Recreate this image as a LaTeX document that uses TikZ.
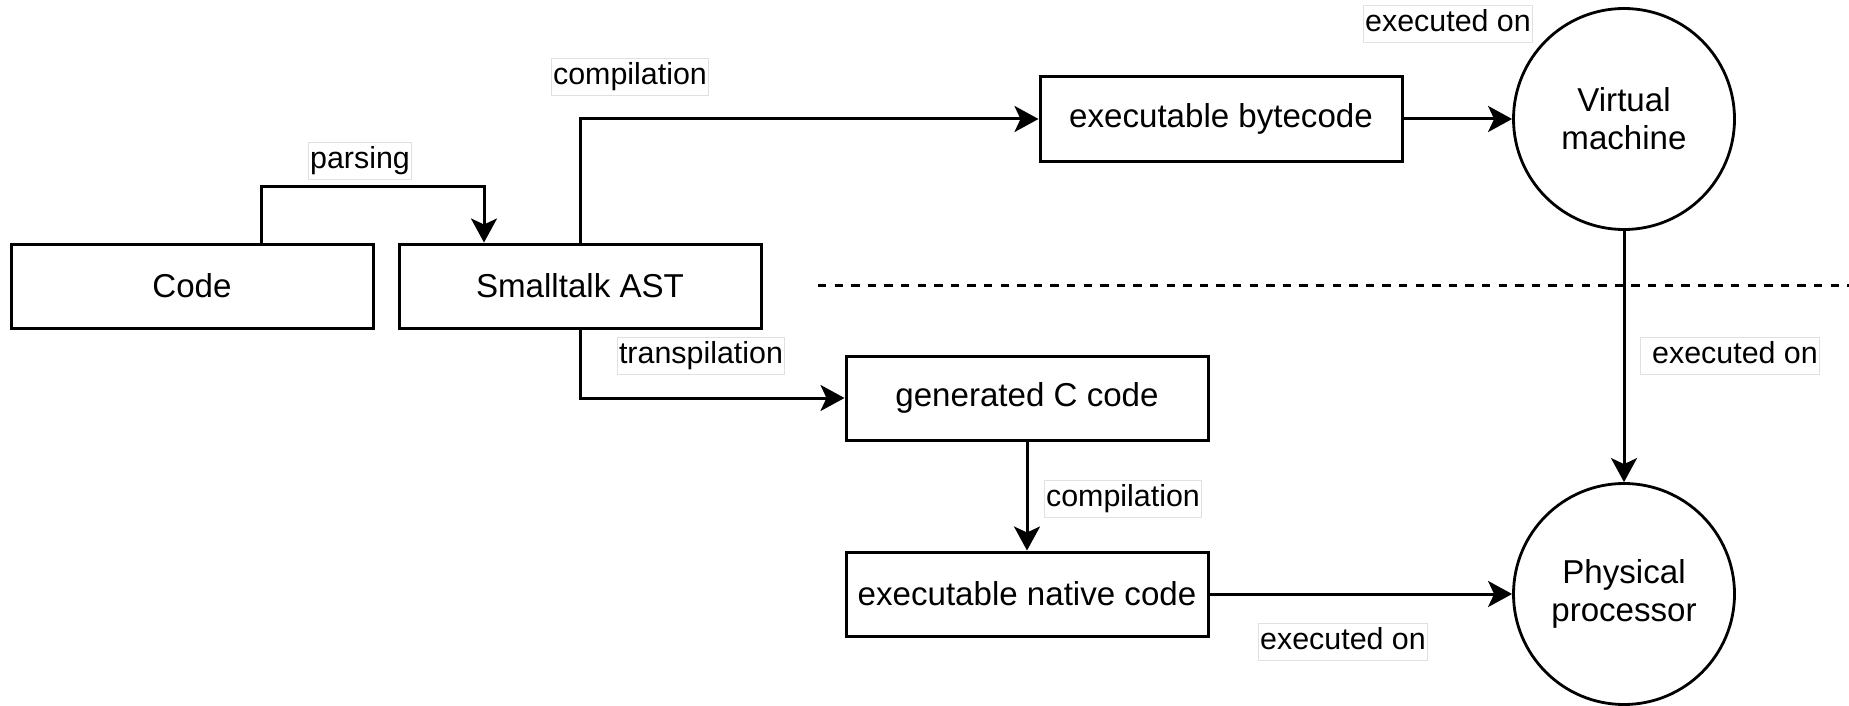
\documentclass[tikz,border=0pt]{standalone}
\usepackage{fontspec}
\setmainfont{Liberation Sans}
\usetikzlibrary{arrows.meta}

\tikzset{
  box/.style={draw, line width=3pt, fill=white, minimum width=362pt, minimum height=84pt,
    inner sep=0pt, font=\fontsize{33.1}{38}\selectfont},
  disc/.style={draw, circle, line width=2.8pt, fill=white, minimum size=221pt, inner sep=0pt,
    align=center, font=\fontsize{33.1}{38}\selectfont},
  lbl/.style={draw=black!12, line width=1pt, fill=white, inner xsep=2pt, inner ysep=4.7pt,
    text height=22pt, text depth=6.5pt, font=\fontsize{30.4}{34}\selectfont},
  conn/.style={line width=3pt, -{Stealth[length=24pt, width=26pt, inset=6pt]}},
  sep/.style={line width=3pt, dash pattern=on 8.3pt off 8.3pt},
}

\begin{document}
\begin{tikzpicture}[x=1pt, y=-1pt]
  \useasboundingbox (0,0) rectangle (1849,706);

  % separator between the virtual and the physical level
  \coordinate (sepL) at (818,285);
  \coordinate (sepR) at (1849,285);
  \draw[sep] (sepL) -- (sepR);

  % boxes
  \node[box] (code)   at (192,286)  {Code};
  \node[box] (ast)    at (580,286)  {Smalltalk AST};
  \node[box] (byte)   at (1221,119) {executable bytecode};
  \node[box] (ccode)  at (1027,398) {generated C code};
  \node[box] (native) at (1027,594) {executable native code};

  % execution targets
  \node[disc] (vm)   at (1624,119) {Virtual\\machine};
  \node[disc] (phys) at (1624,594) {Physical\\processor};

  % connectors
  \draw[conn] ([xshift=69pt]code.north) |- ++(0,-56) -| ([xshift=-96pt]ast.north);
  \draw[conn] (ast.north) |- (byte.west);
  \draw[conn] (ast.south) |- (ccode.west);
  \draw[conn] (ccode.south) -- (native.north);
  \draw[conn] (byte.east) -- (vm.west);
  \draw[conn] (vm.south) -- (phys.north);
  \draw[conn] (native.east) -- (phys.west);

  % connector labels
  \node[lbl] (lparse)  at (360,161)  {parsing};
  \node[lbl] (lcomp1)  at (630,77)   {compilation};
  \node[lbl] (lexec1)  at (1448,24)  {executed on};
  \node[lbl] (ltrans)  at (701,356)  {transpilation};
  \node[lbl] (lcomp2)  at (1123,499) {compilation};
  \node[lbl] (lexec2)  at (1730,356) {\hspace{10pt}executed on};
  \node[lbl] (lexec3)  at (1343,642) {executed on};
\end{tikzpicture}
\end{document}
